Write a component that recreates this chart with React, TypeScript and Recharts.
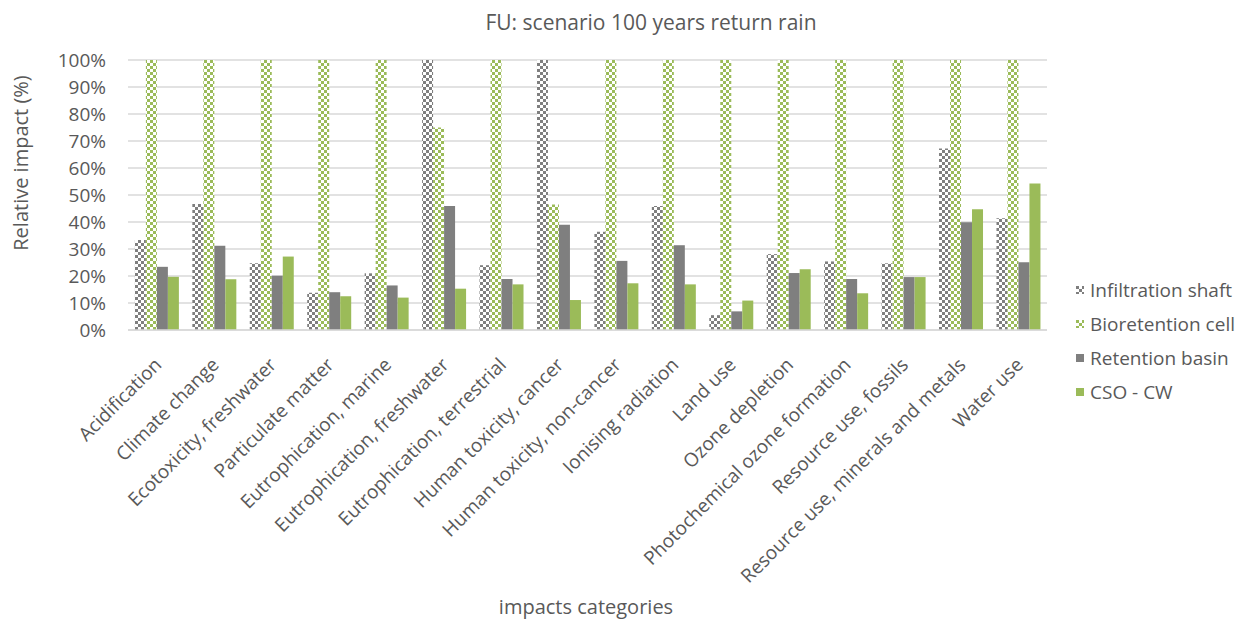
import { BarChart, Bar, XAxis, YAxis, CartesianGrid } from "recharts";

const categories = [
  "Acidification",
  "Climate change",
  "Ecotoxicity, freshwater",
  "Particulate matter",
  "Eutrophication, marine",
  "Eutrophication, freshwater",
  "Eutrophication, terrestrial",
  "Human toxicity, cancer",
  "Human toxicity, non-cancer",
  "Ionising radiation",
  "Land use",
  "Ozone depletion",
  "Photochemical ozone formation",
  "Resource use, fossils",
  "Resource use, minerals and metals",
  "Water use",
];

const infiltrationShaft = [33.3, 46.7, 24.7, 13.8, 21, 100, 24, 100, 36.4, 45.9, 5.5, 28.1, 25.4, 24.7, 67.2, 41.4];
const bioretentionCell = [100, 100, 100, 100, 100, 75, 100, 46.5, 100, 100, 100, 100, 100, 100, 100, 100];
const retentionBasin = [23.4, 31.2, 20.1, 14, 16.5, 45.9, 18.9, 39, 25.6, 31.4, 6.9, 21.1, 18.9, 19.6, 39.9, 25.1];
const csoCw = [19.7, 18.8, 27.2, 12.5, 12, 15.3, 16.9, 11.1, 17.3, 16.9, 10.9, 22.5, 13.6, 19.6, 44.7, 54.3];

const yTicks = [0, 10, 20, 30, 40, 50, 60, 70, 80, 90, 100];

const data = categories.map((name, i) => ({
  name,
  is: infiltrationShaft[i],
  bc: bioretentionCell[i],
  rb: retentionBasin[i],
  cso: csoCw[i],
}));

const GREY = "#7f7f7f";
const GREEN = "#9bbb59";
const TEXT = "#595959";
const FONT = "'Open Sans', sans-serif";

const series = [
  { key: "is", label: "Infiltration shaft", fill: "url(#checkGrey)" },
  { key: "bc", label: "Bioretention cell", fill: "url(#checkGreen)" },
  { key: "rb", label: "Retention basin", fill: GREY },
  { key: "cso", label: "CSO - CW", fill: GREEN },
];

const XTick = ({ x, y, payload }: any) => (
  <g transform={`translate(${x + 6},${y + 28})`}>
    <text transform="rotate(-45)" textAnchor="end" fill={TEXT} fontSize={19} fontFamily={FONT}>
      {payload.value}
    </text>
  </g>
);

export default function App() {
  return (
    <div style={{ position: "absolute", left: 0, top: 0, width: 1255, height: 623, background: "#fff" }}>
      <BarChart
        width={1255}
        height={623}
        data={data}
        margin={{ top: 60, right: 208, left: 0, bottom: 0 }}
        barCategoryGap="12%"
        barGap={0}
      >
        <defs>
          <pattern id="checkGrey" width={6} height={6} patternUnits="userSpaceOnUse">
            <rect width={6} height={6} fill="#fff" />
            <rect width={3} height={3} fill={GREY} />
            <rect x={3} y={3} width={3} height={3} fill={GREY} />
          </pattern>
          <pattern id="checkGreen" width={6} height={6} patternUnits="userSpaceOnUse">
            <rect width={6} height={6} fill="#fff" />
            <rect width={3} height={3} fill={GREEN} />
            <rect x={3} y={3} width={3} height={3} fill={GREEN} />
          </pattern>
        </defs>
        <text x={651} y={30} textAnchor="middle" fill={TEXT} fontSize={21} fontFamily={FONT}>
          FU: scenario 100 years return rain
        </text>
        <text
          x={28}
          y={163}
          transform="rotate(-90 28 163)"
          textAnchor="middle"
          fill={TEXT}
          fontSize={20}
          fontFamily={FONT}
        >
          Relative impact (%)
        </text>
        <text x={586} y={614} textAnchor="middle" fill={TEXT} fontSize={20} fontFamily={FONT}>
          impacts categories
        </text>
        <CartesianGrid vertical={false} stroke="#d9d9d9" strokeWidth={1.5} />
        <XAxis
          dataKey="name"
          interval={0}
          height={293}
          tick={<XTick />}
          tickLine={false}
          axisLine={{ stroke: "#d9d9d9", strokeWidth: 1.5 }}
        />
        <YAxis
          width={128}
          domain={[0, 100]}
          ticks={yTicks}
          interval={0}
          tickFormatter={(v: number) => `${v}%`}
          tick={{ fill: TEXT, fontSize: 19, fontFamily: FONT }}
          tickLine={false}
          tickSize={0}
          tickMargin={22}
          axisLine={false}
        />
        {series.map((s) => (
          <Bar key={s.key} dataKey={s.key} fill={s.fill} isAnimationActive={false} />
        ))}
      </BarChart>
      <div
        style={{
          position: "absolute",
          left: 1076,
          top: 273,
          fontFamily: FONT,
          fontSize: 19,
          color: TEXT,
        }}
      >
        {series.map((s) => (
          <div key={s.key} style={{ display: "flex", alignItems: "center", height: 34 }}>
            <svg width={8} height={8} style={{ marginRight: 6 }}>
              <rect width={8} height={8} fill={s.fill} />
            </svg>
            <span>{s.label}</span>
          </div>
        ))}
      </div>
    </div>
  );
}
